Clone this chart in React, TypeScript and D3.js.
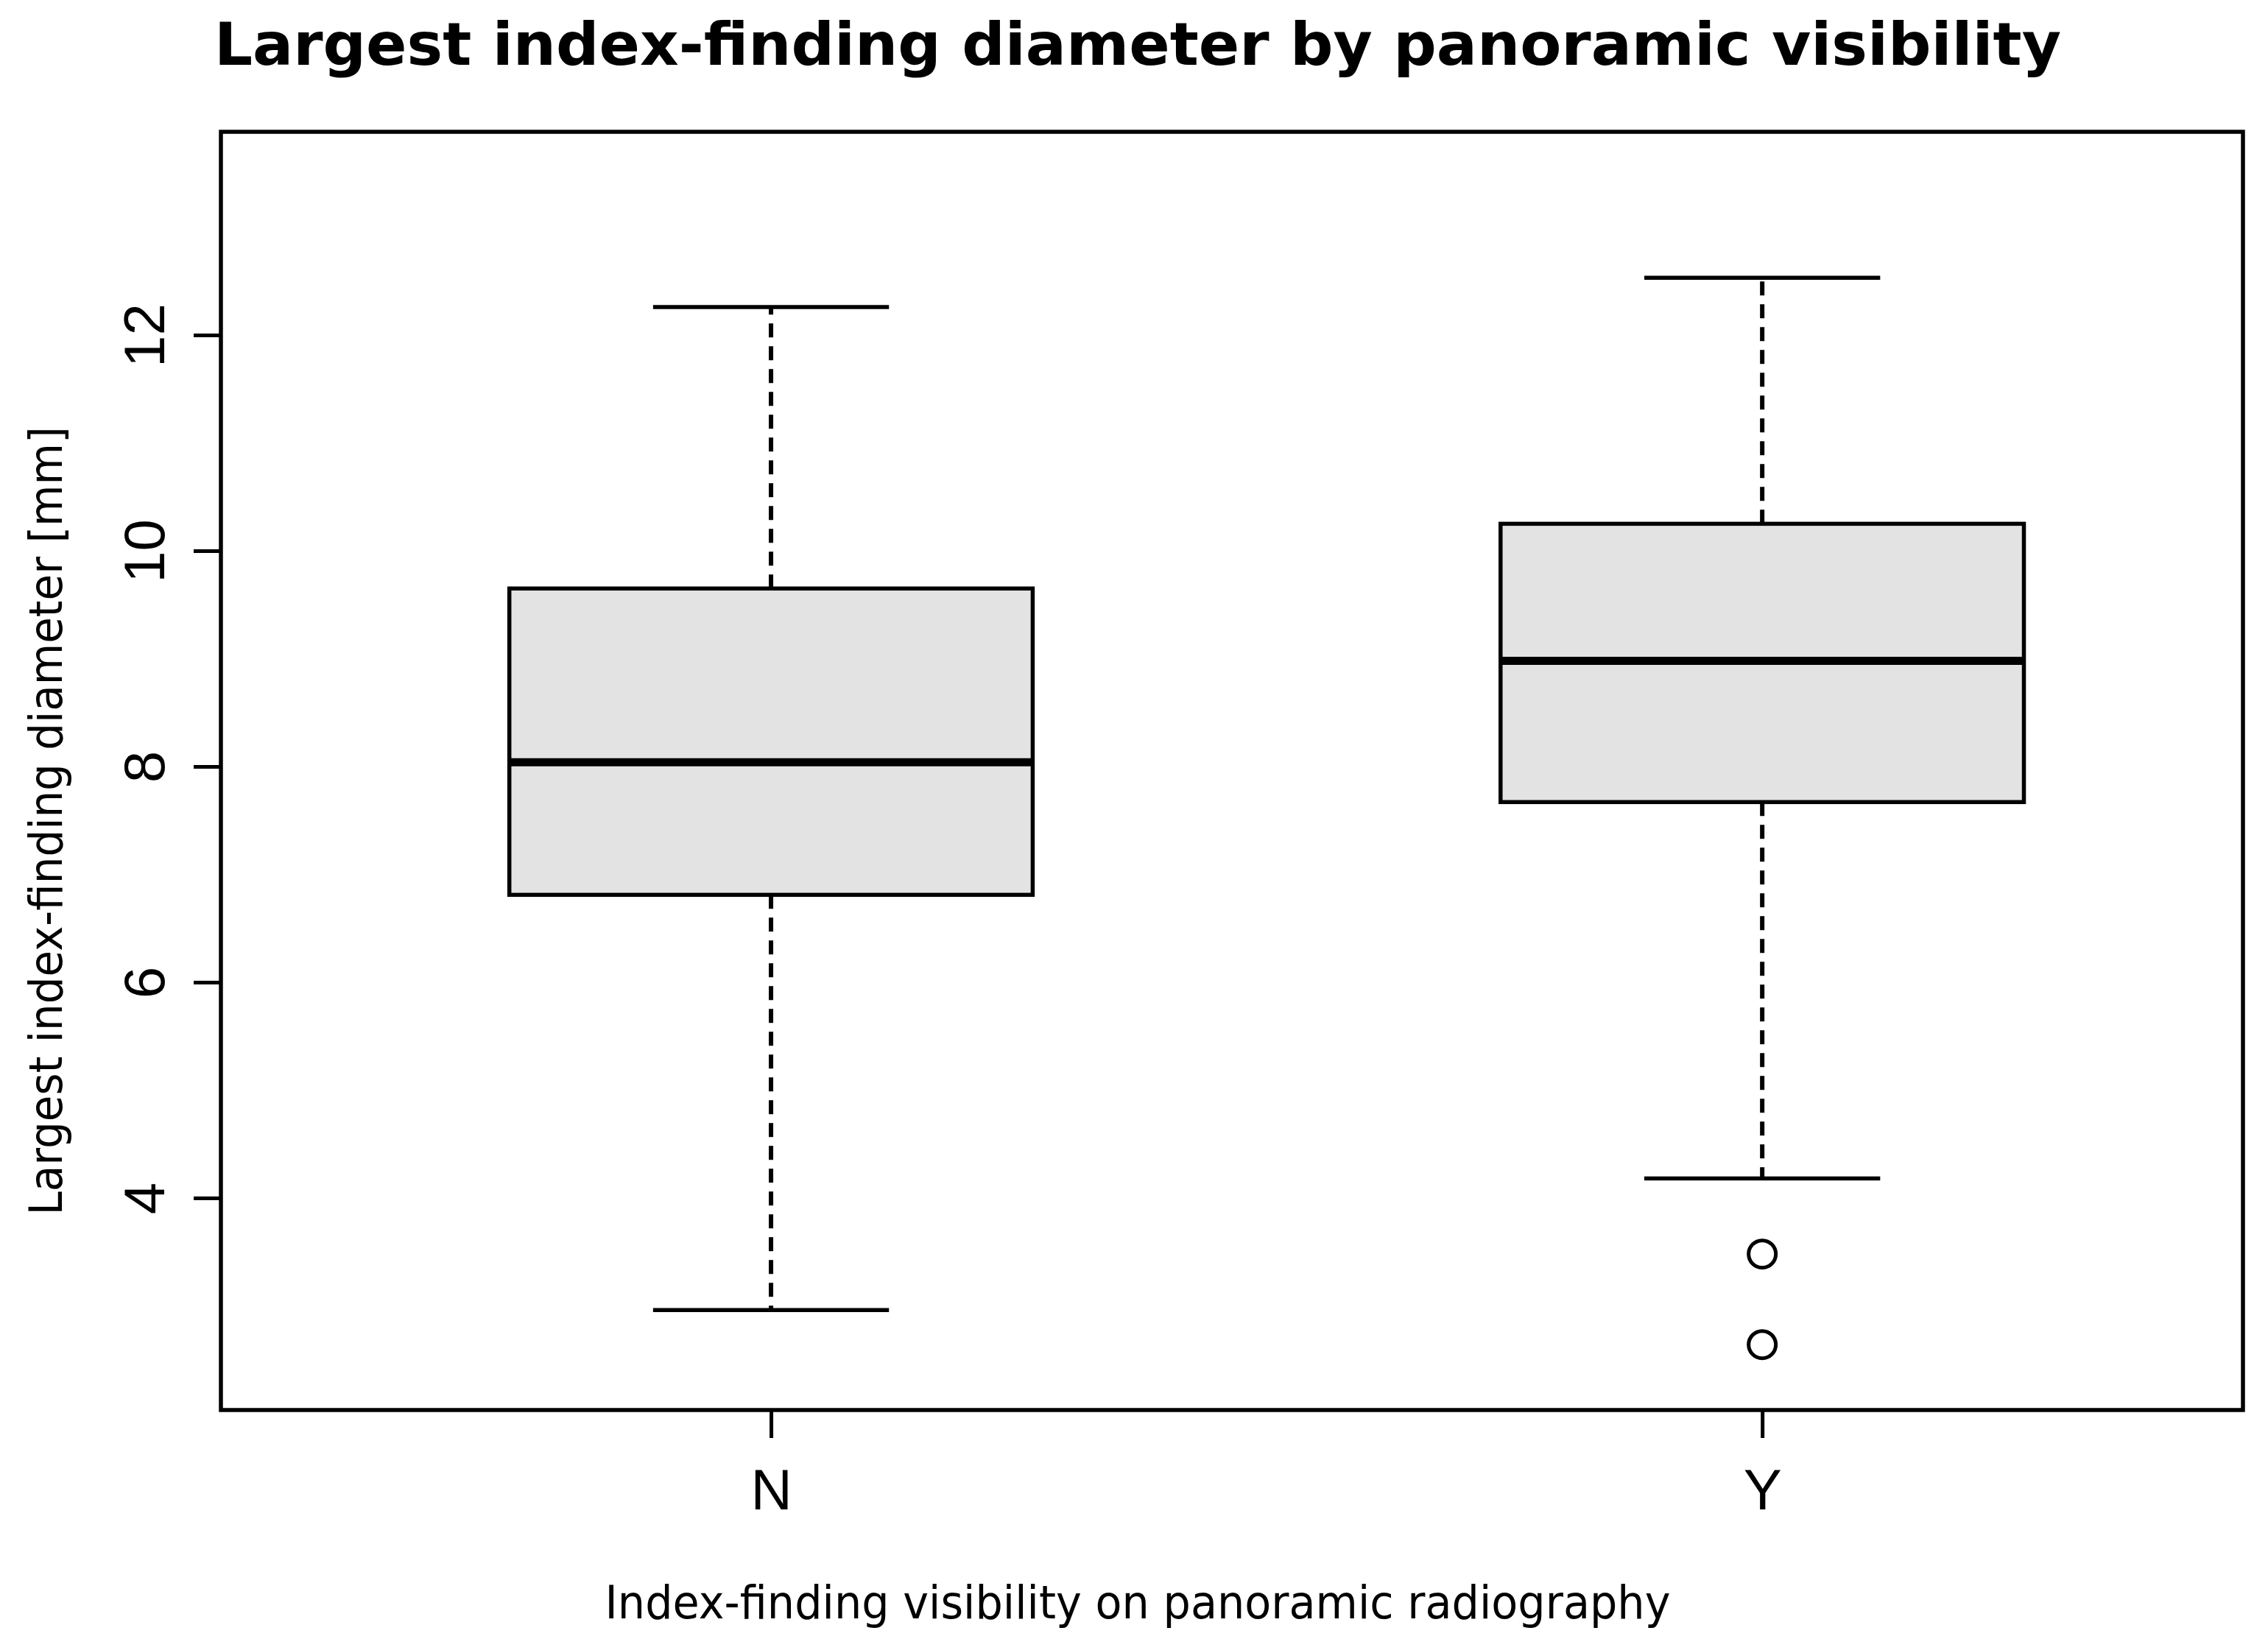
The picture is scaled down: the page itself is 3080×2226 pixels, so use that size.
import { useEffect, useRef } from 'react';
import * as d3 from 'd3';

// values
const categories = ['N', 'Y'];
const upperWhisker = [12.26, 12.53];
const upperHinge = [9.65, 10.25];
const medians = [8.04, 8.98];
const lowerHinge = [6.81, 7.67];
const lowerWhisker = [2.96, 4.18];
const outliers: number[][] = [[], [3.48, 2.64]];
const yTicks = [4, 6, 8, 10, 12];

const title = 'Largest index-finding diameter by panoramic visibility';
const xTitle = 'Index-finding visibility on panoramic radiography';
const yTitle = 'Largest index-finding diameter [mm]';

export default function App() {
  const svgRef = useRef<SVGSVGElement>(null);

  const width = 3080;
  const height = 2226;
  const margin = { top: 179, right: 34, bottom: 311, left: 300 };

  useEffect(() => {
    if (!svgRef.current) return;
    const svg = d3.select(svgRef.current);
    svg.selectAll('*').remove();

    const chartWidth = width - margin.left - margin.right;
    const chartHeight = height - margin.top - margin.bottom;

    const x = d3.scaleLinear().domain([0.445, 2.485]).range([0, chartWidth]);
    const y = d3.scaleLinear().domain([2.034, 13.884]).range([chartHeight, 0]);

    svg.append('rect').attr('width', width).attr('height', height).attr('fill', '#ffffff');

    const g = svg.append('g').attr('transform', `translate(${margin.left},${margin.top})`);

    const boxHalf = x(1.264) - x(1);
    const capHalf = x(1.119) - x(1);

    categories.forEach((cat, i) => {
      const cx = x(i + 1);

      // whiskers and staples
      [[upperHinge[i], upperWhisker[i]], [lowerHinge[i], lowerWhisker[i]]].forEach(([a, b]) => {
        g.append('line')
          .attr('x1', cx).attr('x2', cx)
          .attr('y1', y(a)).attr('y2', y(b))
          .attr('stroke', '#000')
          .attr('stroke-width', 6)
          .attr('stroke-dasharray', '19,12');
        g.append('line')
          .attr('x1', cx - capHalf).attr('x2', cx + capHalf)
          .attr('y1', y(b)).attr('y2', y(b))
          .attr('stroke', '#000')
          .attr('stroke-width', 5.5);
      });

      g.append('rect')
        .attr('x', cx - boxHalf)
        .attr('y', y(upperHinge[i]))
        .attr('width', boxHalf * 2)
        .attr('height', y(lowerHinge[i]) - y(upperHinge[i]))
        .attr('fill', '#e3e3e3')
        .attr('stroke', '#000')
        .attr('stroke-width', 5.5);

      g.append('line')
        .attr('x1', cx - boxHalf).attr('x2', cx + boxHalf)
        .attr('y1', y(medians[i])).attr('y2', y(medians[i]))
        .attr('stroke', '#000')
        .attr('stroke-width', 11);

      outliers[i].forEach((v) => {
        g.append('circle')
          .attr('cx', cx)
          .attr('cy', y(v))
          .attr('r', 18.5)
          .attr('fill', 'none')
          .attr('stroke', '#000')
          .attr('stroke-width', 5);
      });
    });

    // frame
    g.append('rect')
      .attr('width', chartWidth)
      .attr('height', chartHeight)
      .attr('fill', 'none')
      .attr('stroke', '#000')
      .attr('stroke-width', 5.5);

    const yAxis = g.append('g')
      .call(d3.axisLeft(y).tickValues(yTicks).tickSize(37).tickPadding(0).tickFormat(d3.format('d')));
    yAxis.select('.domain').remove();
    yAxis.selectAll('line').attr('stroke', '#000').attr('stroke-width', 5);
    yAxis.selectAll('text')
      .attr('transform', 'rotate(-90)')
      .attr('x', 0)
      .attr('y', -77)
      .attr('dy', 0)
      .attr('text-anchor', 'middle')
      .style('font-family', '"Liberation Sans", Arial, sans-serif')
      .style('font-size', '78px')
      .style('fill', '#000');

    const xAxis = g.append('g')
      .attr('transform', `translate(0,${chartHeight})`)
      .call(d3.axisBottom(x).tickValues([1, 2]).tickSize(38).tickFormat((d) => categories[Number(d) - 1]));
    xAxis.select('.domain').remove();
    xAxis.selectAll('line').attr('stroke', '#000').attr('stroke-width', 5);
    xAxis.selectAll('text')
      .attr('y', 135)
      .attr('dy', 0)
      .style('font-family', '"Liberation Sans", Arial, sans-serif')
      .style('font-size', '78px')
      .style('fill', '#000');

    svg.append('text')
      .attr('x', 1545)
      .attr('y', 88)
      .attr('text-anchor', 'middle')
      .attr('textLength', 2508)
      .attr('lengthAdjust', 'spacingAndGlyphs')
      .style('font-family', '"DejaVu Sans", sans-serif')
      .style('font-weight', 'bold')
      .style('font-size', '81px')
      .style('fill', '#000')
      .text(title);

    svg.append('text')
      .attr('x', 1545)
      .attr('y', 2198)
      .attr('text-anchor', 'middle')
      .attr('textLength', 1447)
      .attr('lengthAdjust', 'spacingAndGlyphs')
      .style('font-family', '"DejaVu Sans", sans-serif')
      .style('font-size', '62px')
      .style('fill', '#000')
      .text(xTitle);

    svg.append('text')
      .attr('transform', 'translate(84,1115) rotate(-90)')
      .attr('text-anchor', 'middle')
      .attr('textLength', 1071)
      .attr('lengthAdjust', 'spacingAndGlyphs')
      .style('font-family', '"DejaVu Sans", sans-serif')
      .style('font-size', '62px')
      .style('fill', '#000')
      .text(yTitle);
  }, []);

  return (
    <svg
      ref={svgRef}
      width={width}
      height={height}
      style={{ position: 'absolute', left: 0, top: 0, display: 'block' }}
    />
  );
}
